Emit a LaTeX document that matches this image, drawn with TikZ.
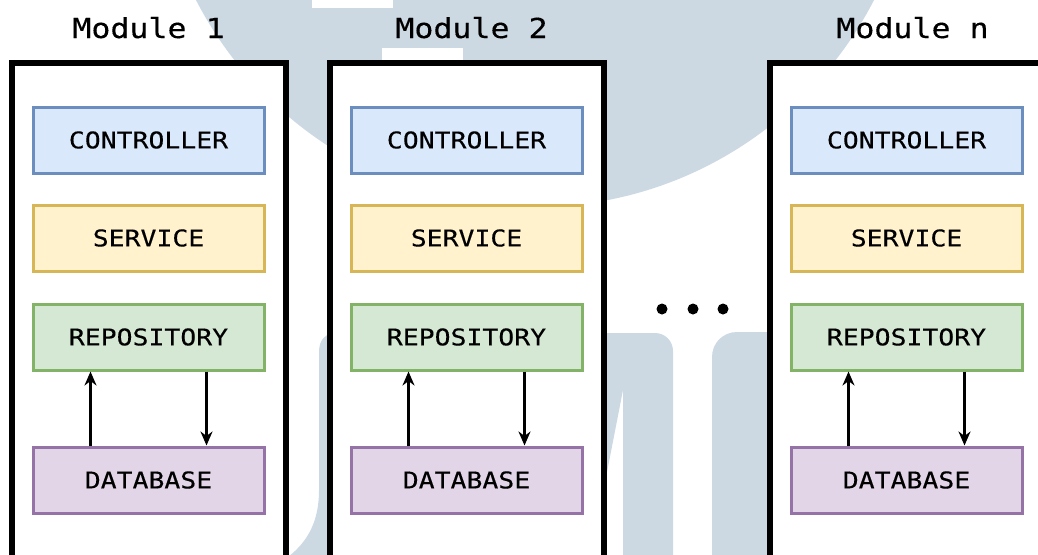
\documentclass[tikz,border=0pt]{standalone}
\usepackage{fontspec}
\usetikzlibrary{arrows.meta}

\newfontfamily\diagfont[FakeStretch=1.15, FakeBold=0.3]{DejaVu Sans Mono}

\definecolor{wmark}{RGB}{204, 217, 227}
\definecolor{cblufill}{HTML}{DAE8FC}
\definecolor{cbludraw}{HTML}{6C8EBF}
\definecolor{cyelfill}{HTML}{FFF2CC}
\definecolor{cyeldraw}{HTML}{D6B656}
\definecolor{cgrefill}{HTML}{D5E8D4}
\definecolor{cgredraw}{HTML}{82B366}
\definecolor{cpurfill}{HTML}{E1D5E7}
\definecolor{cpurdraw}{HTML}{9673A6}

\begin{document}
\begin{tikzpicture}[x=1pt, y=-1pt,
		modbox/.style={draw, line width=5.5pt, fill=white, outer sep=0pt,
				minimum width=274pt, minimum height=560pt, anchor=north west},
		layer/.style 2 args={fill=#1, draw=#2, line width=3pt, inner sep=0pt,
				minimum width=231pt, minimum height=66pt,
				font=\diagfont\fontsize{23}{27}\selectfont},
		modlabel/.style={anchor=base, inner sep=0pt,
				font=\diagfont\fontsize{27.5}{32}\selectfont},
		arr/.style={-{Stealth[length=14pt, width=12pt, inset=4.5pt]}, line width=2.2pt}]

	\useasboundingbox (0,0) rectangle (1038,554);
	\clip (0,0) rectangle (1038,554);

	% --- background logo ---
	\fill[wmark] (535,-174) circle[radius=381pt];
	\fill[white] (312,-5) rectangle (393,8);
	\fill[white] (382,48) rectangle (463,70);
	\fill[wmark] (284,560) .. controls (305,545) and (319,525) .. (319,490)
		-- (319,352) .. controls (319,340) and (325,333) .. (337,333) -- (337,560) -- cycle;
	\fill[wmark] (600,333) -- (655,333) .. controls (665,333) and (673,341) .. (673,351)
		-- (673,560) -- (623,560) -- (623,390) -- (600,508) -- cycle;
	\fill[wmark] (712,560) -- (712,357) .. controls (712,343) and (723,332) .. (737,332)
		-- (780,332) -- (780,560) -- cycle;

	% --- modules ---
	\foreach \m/\dx/\lx in {1/0/0, 2/318/5, n/758/6} {
			\begin{scope}[xshift=\dx pt]
				\node[modbox] (mod\m) at (12,63) {};
				\node[modlabel] (lab\m) at (148.5+\lx,38) {Module \m};

				\node[layer={cblufill}{cbludraw}] (ctrl\m) at (148.5,140) {CONTROLLER};
				\node[layer={cyelfill}{cyeldraw}] (svc\m) at (148.5,238) {SERVICE};
				\node[layer={cgrefill}{cgredraw}] (repo\m) at (148.5,337) {REPOSITORY};
				\node[layer={cpurfill}{cpurdraw}] (db\m) at (148.5,480) {DATABASE};

				\draw[arr] ([xshift=-58pt]db\m.north) -- ([xshift=-58pt]repo\m.south);
				\draw[arr] ([xshift=58pt]repo\m.south) -- ([xshift=58pt]db\m.north);
			\end{scope}
		}

	% dots between module 2 and module n
	\foreach \x in {662,693,723} {
			\fill (\x,309) circle[radius=5.5pt];
		}

\end{tikzpicture}
\end{document}
